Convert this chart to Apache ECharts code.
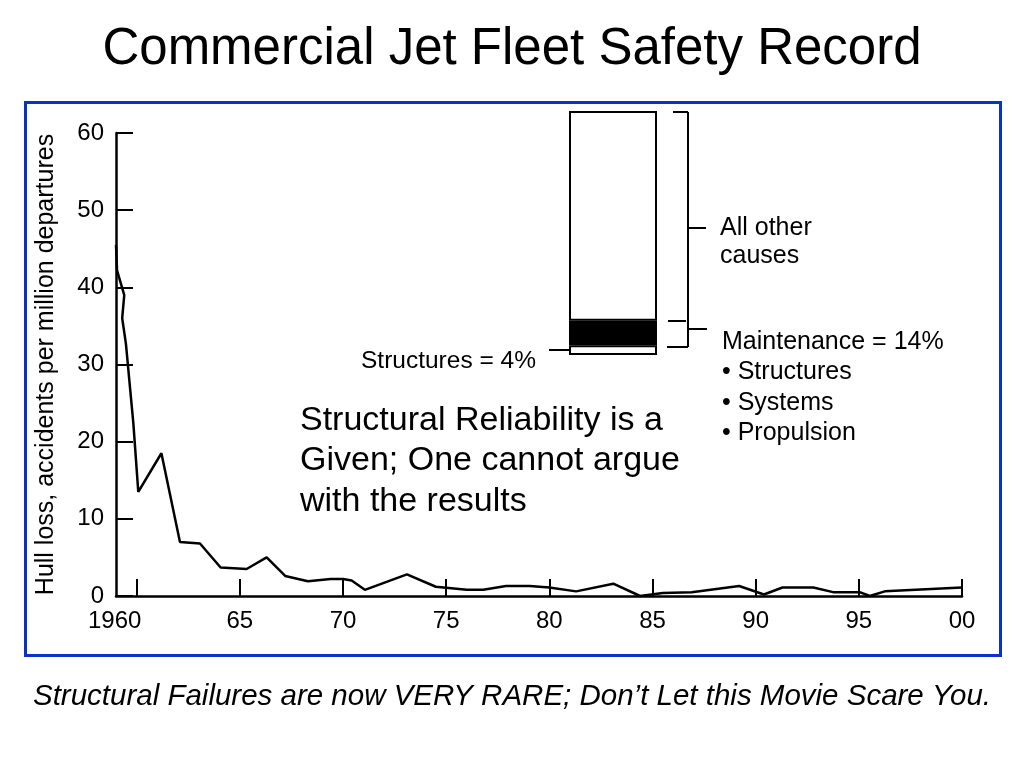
<!DOCTYPE html>
<html>
<head>
<meta charset="utf-8">
<script src="https://cdn.jsdelivr.net/npm/echarts@6/dist/echarts.min.js"></script>
<style>html,body{margin:0;padding:0;background:#fff}#c{width:1024px;height:768px}</style>
</head>
<body>
<div id="c"></div>
<script>
// Hull loss rate (accidents per million departures)
var years = [1959.0, 1959.05, 1959.4, 1959.3, 1959.48, 1959.84, 1960.08, 1961.2, 1962.1, 1963.07, 1964.07, 1965.33, 1966.3, 1967.2, 1968.3, 1969.4, 1970.0, 1970.42, 1971.06, 1973.1, 1974.5, 1976.0, 1976.8, 1977.9, 1979.05, 1980.0, 1981.3, 1983.1, 1984.4, 1985.5, 1986.9, 1989.2, 1990.4, 1991.3, 1992.8, 1993.75, 1995.04, 1995.53, 1996.26, 2000.0];
var rates = [45.5, 42.2, 39.0, 36.0, 32.7, 22.4, 13.5, 18.5, 7.0, 6.8, 3.7, 3.5, 5.0, 2.6, 1.9, 2.2, 2.2, 2.0, 0.8, 2.8, 1.2, 0.8, 0.8, 1.3, 1.3, 1.1, 0.6, 1.6, 0.0, 0.4, 0.5, 1.3, 0.2, 1.1, 1.1, 0.5, 0.5, 0.0, 0.6, 1.1];
var xTicks = [1960, 1965, 1970, 1975, 1980, 1985, 1990, 1995, 2000];
var yTicks = [0, 10, 20, 30, 40, 50, 60];
// Accident cause breakdown (percent)
var causeNames = ['Structures', 'Maintenance (other)', 'All other causes'];
var causeShares = [4, 10, 86];
var causeFills = ['#ffffff', '#000000', '#ffffff'];

var chart = echarts.init(document.getElementById('c'));
var lineData = years.map(function (y, i) { return [y, rates[i]]; });
var F = '"Liberation Sans", Arial, sans-serif';

var barSeries = causeShares.map(function (v, i) {
  return {
    type: 'bar', name: causeNames[i], stack: 'c', xAxisIndex: 1, yAxisIndex: 1,
    barWidth: 88, data: [v], silent: true,
    itemStyle: { color: causeFills[i], borderColor: '#000', borderWidth: 2 }
  };
});

var txt = function (x, y, t, size, extra) {
  var s = { text: t, fill: '#000', font: size + 'px ' + F, textVerticalAlign: 'middle' };
  if (extra) for (var k in extra) s[k] = extra[k];
  return { type: 'text', left: x, top: y, style: s, z: 10 };
};
var ln = function (x1, y1, x2, y2) {
  return { type: 'line', shape: { x1: x1, y1: y1, x2: x2, y2: y2 }, style: { stroke: '#000', lineWidth: 2 }, z: 10 };
};

chart.setOption({
  animation: false,
  backgroundColor: '#fff',
  title: {
    text: 'Commercial Jet Fleet Safety Record', left: 'center', top: 19,
    textStyle: { fontFamily: F, fontSize: 51, fontWeight: 'normal', color: '#000' }
  },
  grid: [
    { left: 116, right: 62, top: 133, height: 463 },
    { left: 569, width: 88, top: 111, height: 244 }
  ],
  xAxis: [
    {
      type: 'value', gridIndex: 0, min: 1959, max: 2000,
      axisLine: { lineStyle: { color: '#000', width: 2.5 } },
      axisTick: { inside: true, length: 17, customValues: xTicks, lineStyle: { color: '#000', width: 2 } },
      axisLabel: {
        customValues: xTicks, margin: 13, color: '#000', fontFamily: F, fontSize: 24,
        formatter: function (v) { return v === 1960 ? '{a|1960}' : String(v).slice(2); },
        rich: { a: { fontFamily: F, fontSize: 24, color: '#000', padding: [0, 44, 0, 0] } }
      },
      splitLine: { show: false }
    },
    { type: 'category', gridIndex: 1, data: ['share'], show: false }
  ],
  yAxis: [
    {
      type: 'value', gridIndex: 0, min: 0, max: 60, interval: 10,
      name: 'Hull loss, accidents per million departures', nameLocation: 'middle', nameGap: 57,
      nameTextStyle: { fontFamily: F, fontSize: 25, color: '#000' },
      axisLine: { show: true, lineStyle: { color: '#000', width: 2.5 } },
      axisTick: { show: true, inside: true, length: 17, lineStyle: { color: '#000', width: 2 } },
      axisLabel: { margin: 12, color: '#000', fontFamily: F, fontSize: 24 },
      splitLine: { show: false }
    },
    { type: 'value', gridIndex: 1, min: 0, max: 100, show: false }
  ],
  series: [
    {
      type: 'line', name: 'Hull loss rate', xAxisIndex: 0, yAxisIndex: 0, data: lineData,
      showSymbol: false, lineStyle: { color: '#000', width: 2.5 }, silent: true
    }
  ].concat(barSeries),
  graphic: [
    { type: 'rect', shape: { x: 25.5, y: 102.5, width: 975, height: 553 }, style: { fill: 'none', stroke: '#0a32c8', lineWidth: 3 }, z: 1 },
    // cause brackets
    ln(688, 112, 688, 347), ln(673, 112, 688, 112), ln(667, 347, 688, 347), ln(668, 321, 686, 321),
    ln(688, 228, 706, 228), ln(688, 329, 707, 329), ln(549, 350, 569, 350),
    txt(361, 349, 'Structures = 4%', 24.5),
    txt(720, 216, 'All other', 25), txt(720, 244, 'causes', 25),
    txt(722, 330, 'Maintenance = 14%', 25),
    txt(722, 360, '\u2022 Structures', 25), txt(722, 391, '\u2022 Systems', 25), txt(722, 421, '\u2022 Propulsion', 25),
    txt(300, 404, 'Structural Reliability is a', 34),
    txt(300, 444, 'Given; One cannot argue', 34),
    txt(300, 485, 'with the results', 34),
    { type: 'text', left: 'center', top: 682, style: { text: 'Structural Failures are now VERY RARE; Don\u2019t Let this Movie Scare You.', fill: '#000', font: 'italic 29.5px ' + F }, z: 10 }
  ]
});
</script>
</body>
</html>
